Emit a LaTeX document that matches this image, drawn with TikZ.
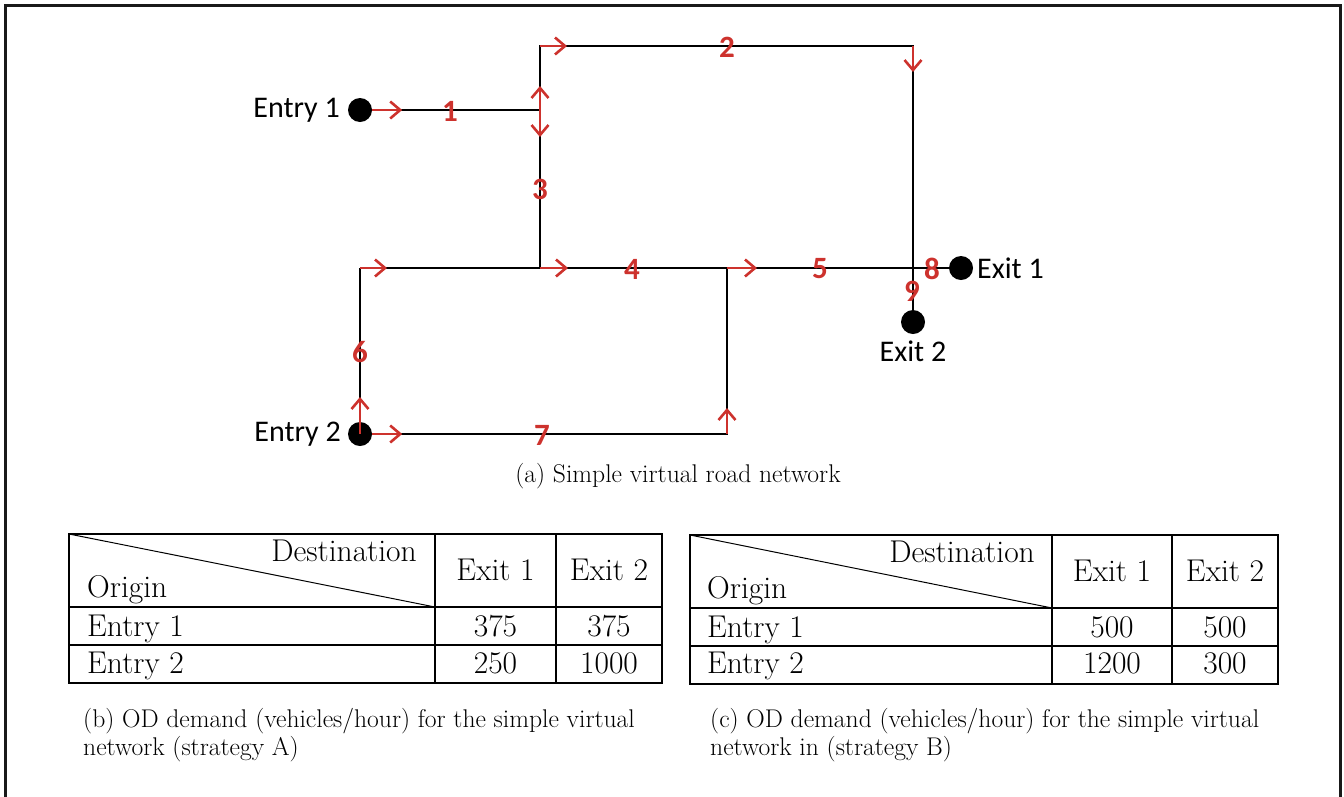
\documentclass[tikz,border=0pt]{standalone}
\usepackage{fontspec}
\newfontfamily\carlito{Carlito}
\usetikzlibrary{arrows.meta}
\definecolor{arrred}{RGB}{205,50,45}
\tikzset{
  road/.style={line width=2.8pt, black},
  redarr/.style={line width=2.6pt, arrred, -{Straight Barb[length=10pt,width=17pt,line width=2.6pt]}},
  dot/.style={circle, fill=black, minimum size=24pt, inner sep=0pt},
  lbl/.style={font=\carlito\fontsize{30}{34}\selectfont, inner sep=0pt},
  num/.style={font=\carlito\bfseries\fontsize{31}{34}\selectfont, text=arrred, inner sep=0pt},
  tab/.style={font=\fontsize{31.5}{36}\selectfont, inner sep=0pt},
  captxt/.style={font=\fontsize{25.6}{28}\selectfont, inner sep=0pt, align=left},
  tline/.style={line width=1.3pt, black},
}
\begin{document}
\begin{tikzpicture}[x=1pt,y=-1pt]
\useasboundingbox (0,0) rectangle (1344,796);
% frame
\draw[line width=3pt, black!90] (5,800) -- (5,5) -- (1340,5) -- (1340,800);

% network nodes
\node[dot] (e1) at (360,110) {};
\node[dot] (e2) at (360,434) {};
\node[dot] (x1) at (961,268) {};
\node[dot] (x2) at (913,322) {};
\coordinate (j1) at (540,110);
\coordinate (tl) at (540,46);
\coordinate (tr) at (913,46);
\coordinate (j5) at (913,268);
\coordinate (j3) at (540,268);
\coordinate (j4) at (727,268);
\coordinate (l6) at (360,268);
\coordinate (b7) at (727,434);

% roads
\draw[road] (e1.center) -- (j1);
\draw[road] (j3) -- (j1) -- (tl) -- (tr) -- (j5) -- (x2.center);
\draw[road] (l6) -- (j3) -- (j4) -- (j5) -- (x1.center);
\draw[road] (l6) -- (e2.center) -- (b7) -- (j4);

% red arrows
\draw[redarr] (e1.east) -- ++(30,0);
\draw[redarr] (j1) -- ++(0,-24);
\draw[redarr] (j1) -- ++(0,27);
\draw[redarr] (tl) -- ++(27,0);
\draw[redarr] (tr) -- ++(0,26);
\draw[redarr] (l6) -- ++(27,0);
\draw[redarr] (j3) -- ++(28,0);
\draw[redarr] (j4) -- ++(30,0);
\draw[redarr] (e2.center) -- ++(0,-37);
\draw[redarr] (e2.east) -- ++(30,0);
\draw[redarr] (b7) -- ++(0,-26);

% link numbers
\node[num] (n1) at (450,111) {1};
\node[num] (n2) at (727,47) {2};
\node[num] (n3) at (540,189) {3};
\node[num] (n4) at (632,269) {4};
\node[num] (n5) at (820,269) {5};
\node[num] (n6) at (360,352) {6};
\node[num] (n7) at (542,435) {7};
\node[num] (n8) at (932,269) {8};
\node[num] (n9) at (912,291) {9};

% place labels
\node[lbl, anchor=east] (te1) at (340,110) {Entry 1};
\node[lbl, anchor=east] (te2) at (341,434) {Entry 2};
\node[lbl, anchor=west] (tx1) at (977,268) {Exit 1};
\node[lbl] (tx2) at (913,351) {Exit 2};

\node[captxt] (capa) at (678,476) {(a) Simple virtual road network};

% table b
\draw[tline] (69,534) rectangle (662,683);
\draw[tline] (69,607) -- (662,607);
\draw[tline] (69,645) -- (662,645);
\draw[tline] (435,534) -- (435,683);
\draw[tline] (556,534) -- (556,683);
\draw[line width=1pt] (69,534) -- (435,607);
\node[tab, anchor=base east] (bd) at (417,561) {Destination};
\node[tab, anchor=base west] (bo) at (87,597) {Origin};
\node[tab, anchor=base] (bx1) at (495.5,580) {Exit 1};
\node[tab, anchor=base] (bx2) at (609,580) {Exit 2};
\node[tab, anchor=base west] (br1) at (87,636) {Entry 1};
\node[tab, anchor=base] (b11) at (495.5,636) {375};
\node[tab, anchor=base] (b12) at (609,636) {375};
\node[tab, anchor=base west] (br2) at (87,673) {Entry 2};
\node[tab, anchor=base] (b21) at (495.5,673) {250};
\node[tab, anchor=base] (b22) at (609,673) {1000};

% table c
\draw[tline] (690,535) rectangle (1278,684);
\draw[tline] (690,608) -- (1278,608);
\draw[tline] (690,646) -- (1278,646);
\draw[tline] (1052,535) -- (1052,684);
\draw[tline] (1172,535) -- (1172,684);
\draw[line width=1pt] (690,535) -- (1052,608);
\node[tab, anchor=base east] (cd) at (1035,562) {Destination};
\node[tab, anchor=base west] (co) at (707,598) {Origin};
\node[tab, anchor=base] (cx1) at (1112,581) {Exit 1};
\node[tab, anchor=base] (cx2) at (1225,581) {Exit 2};
\node[tab, anchor=base west] (cr1) at (707,637) {Entry 1};
\node[tab, anchor=base] (c11) at (1112,637) {500};
\node[tab, anchor=base] (c12) at (1225,637) {500};
\node[tab, anchor=base west] (cr2) at (707,673) {Entry 2};
\node[tab, anchor=base] (c21) at (1112,673) {1200};
\node[tab, anchor=base] (c22) at (1225,673) {300};

% captions
\node[captxt, anchor=north west] (capb) at (83,708) {(b) OD demand (vehicles/hour) for the simple virtual\\network (strategy A)};
\node[captxt, anchor=north west] (capc) at (710,708) {(c) OD demand (vehicles/hour) for the simple virtual\\network in (strategy B)};
\end{tikzpicture}
\end{document}
